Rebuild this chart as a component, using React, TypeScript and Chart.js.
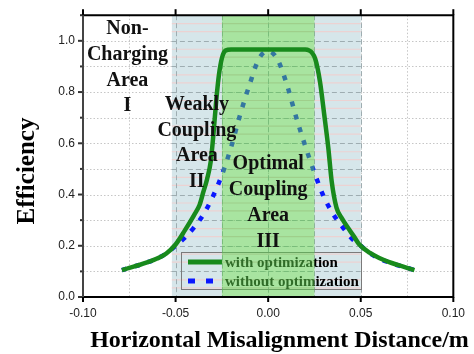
import React, { useEffect, useRef } from 'react';
import { Chart, registerables } from 'chart.js';

Chart.register(...registerables);

// ---- data ----
const seriesNames = ['with optimization', 'without optimization'];

const xWith = [-0.079, -0.075, -0.07, -0.065, -0.06, -0.055, -0.05, -0.045, -0.04, -0.037, -0.035, -0.033, -0.031, -0.0295, -0.028, -0.0266, -0.025, -0.023, -0.02, -0.01, 0, 0.01, 0.02, 0.022, 0.0254, 0.028, 0.0303, 0.0325, 0.0343, 0.0369, 0.04, 0.043, 0.046, 0.049, 0.055, 0.06, 0.065, 0.07, 0.075, 0.079];
const yWith = [0.105, 0.114, 0.124, 0.136, 0.15, 0.17, 0.205, 0.26, 0.32, 0.36, 0.41, 0.46, 0.53, 0.64, 0.77, 0.866, 0.932, 0.962, 0.966, 0.966, 0.966, 0.966, 0.966, 0.963, 0.93, 0.84, 0.711, 0.581, 0.452, 0.349, 0.305, 0.271, 0.24, 0.207, 0.172, 0.152, 0.137, 0.125, 0.114, 0.105];

const xWithout = [-0.079, -0.075, -0.07, -0.065, -0.06, -0.055, -0.05, -0.045, -0.04, -0.035, -0.03, -0.025, -0.02, -0.015, -0.01, -0.005, 0, 0.005, 0.01, 0.015, 0.02, 0.025, 0.03, 0.035, 0.04, 0.045, 0.05, 0.055, 0.06, 0.065, 0.07, 0.075, 0.079];
const yWithout = [0.105, 0.114, 0.124, 0.136, 0.15, 0.17, 0.2, 0.232, 0.272, 0.322, 0.39, 0.476, 0.585, 0.715, 0.83, 0.93, 0.96, 0.928, 0.832, 0.705, 0.59, 0.485, 0.392, 0.325, 0.275, 0.23, 0.2, 0.17, 0.15, 0.136, 0.124, 0.114, 0.105];

const xTickLabels = ['-0.10', '-0.05', '0.00', '0.05', '0.10'];
const yTickLabels = ['0.0', '0.2', '0.4', '0.6', '0.8', '1.0'];

// region boundaries (x values)
const weakBounds = [-0.052, 0.05];
const optimalBounds = [-0.025, 0.025];

const areaLabels = [
  ['Non-', 'Charging', 'Area', 'I'],
  ['Weakly', 'Coupling', 'Area', 'II'],
  ['Optimal', 'Coupling', 'Area', 'III'],
];
const xTitle = 'Horizontal Misalignment Distance/m';
const yTitle = 'Efficiency';

const SERIF = '"Liberation Serif", "Times New Roman", serif';
const SANS = '"Liberation Sans", Arial, sans-serif';
const GREEN = '#188a1c';
const BLUE = '#0a18ff';

const areaAnchors = [
  { x: -0.076, y: 1.026 },
  { x: -0.0385, y: 0.73 },
  { x: 0.0, y: 0.498 },
];

const regionPlugin = {
  id: 'regions',
  beforeDatasetsDraw(chart: any) {
    const { ctx, chartArea: a, scales } = chart;
    const xs = scales.x, ys = scales.y;
    ctx.save();
    ctx.beginPath();
    ctx.rect(a.left, a.top, a.right - a.left, a.bottom - a.top);
    ctx.clip();
    // dotted background grid
    ctx.strokeStyle = '#c6c6c6';
    ctx.lineWidth = 1;
    ctx.setLineDash([1.5, 2]);
    for (let i = 0; i <= 8; i++) {
      const px = Math.round(xs.getPixelForValue(-0.1 + i * 0.025)) + 0.5;
      ctx.beginPath(); ctx.moveTo(px, a.top); ctx.lineTo(px, a.bottom); ctx.stroke();
    }
    for (let i = 0; i <= 11; i++) {
      const py = Math.round(ys.getPixelForValue(i * 0.1)) + 0.5;
      ctx.beginPath(); ctx.moveTo(a.left, py); ctx.lineTo(a.right, py); ctx.stroke();
    }
    // weak coupling regions (light blue)
    const l = xs.getPixelForValue(weakBounds[0]);
    const r = xs.getPixelForValue(weakBounds[1]);
    const ol = xs.getPixelForValue(optimalBounds[0]);
    const or = xs.getPixelForValue(optimalBounds[1]);
    ctx.setLineDash([]);
    ctx.fillStyle = '#d6e6ea';
    ctx.fillRect(l, a.top, ol - l, a.bottom - a.top);
    ctx.fillRect(or, a.top, r - or, a.bottom - a.top);
    // pink stripes
    ctx.strokeStyle = '#ecd2d2';
    ctx.lineWidth = 1.2;
    for (let i = 0; i <= 11; i++) {
      for (const off of [0.036, 0.067]) {
        const py = ys.getPixelForValue(i * 0.1 + off);
        ctx.beginPath(); ctx.moveTo(l, py); ctx.lineTo(r, py); ctx.stroke();
      }
    }
    // dashed grey lines inside regions
    ctx.strokeStyle = '#9eadb1';
    ctx.lineWidth = 1;
    ctx.setLineDash([5, 3]);
    for (let i = 0; i <= 11; i++) {
      const py = Math.round(ys.getPixelForValue(i * 0.1)) + 0.5;
      ctx.beginPath(); ctx.moveTo(l, py); ctx.lineTo(r, py); ctx.stroke();
    }
    for (const v of [-0.05, -0.025, 0, 0.025, 0.05]) {
      const px = Math.round(xs.getPixelForValue(v)) + 0.5;
      ctx.beginPath(); ctx.moveTo(px, a.top); ctx.lineTo(px, a.bottom); ctx.stroke();
    }
    ctx.restore();
  },
  beforeDatasetDraw(chart: any, args: any) {
    if (args.index !== 0) return;
    const { ctx, chartArea: a, scales } = chart;
    const xs = scales.x;
    ctx.save();
    // legend (drawn beneath the green overlay)
    const bx = 181, by = 252, bw = 180, bh = 37;
    ctx.strokeStyle = '#7a7a7a';
    ctx.lineWidth = 1;
    ctx.strokeRect(bx + 0.5, by + 0.5, bw, bh);
    ctx.lineWidth = 5;
    ctx.strokeStyle = GREEN;
    ctx.beginPath(); ctx.moveTo(188, 262); ctx.lineTo(222, 262); ctx.stroke();
    ctx.strokeStyle = BLUE;
    ctx.setLineDash([7, 11]);
    ctx.beginPath(); ctx.moveTo(188, 281); ctx.lineTo(222, 281); ctx.stroke();
    ctx.setLineDash([]);
    ctx.fillStyle = '#000';
    ctx.font = `bold 15px ${SERIF}`;
    ctx.textAlign = 'left';
    ctx.textBaseline = 'middle';
    ctx.fillText(seriesNames[0], 225, 263);
    ctx.fillText(seriesNames[1], 225, 282);
    // optimal region overlay (semi-transparent green)
    const ol = xs.getPixelForValue(optimalBounds[0]);
    const or = xs.getPixelForValue(optimalBounds[1]);
    ctx.fillStyle = 'rgba(90, 204, 75, 0.53)';
    ctx.fillRect(ol, a.top, or - ol, a.bottom - a.top);
    ctx.restore();
  },
  afterDatasetsDraw(chart: any) {
    const { ctx, scales } = chart;
    ctx.save();
    ctx.fillStyle = '#111';
    ctx.font = `bold 20px ${SERIF}`;
    ctx.textAlign = 'center';
    ctx.textBaseline = 'alphabetic';
    areaLabels.forEach((lines, k) => {
      const cx = scales.x.getPixelForValue(areaAnchors[k].x);
      const cy = scales.y.getPixelForValue(areaAnchors[k].y);
      lines.forEach((t, j) => ctx.fillText(t, cx, cy + j * 25.7));
    });
    ctx.restore();
  },
  afterDraw(chart: any) {
    const { ctx, chartArea: a, scales } = chart;
    const xs = scales.x, ys = scales.y;
    ctx.save();
    ctx.setLineDash([]);
    ctx.lineWidth = 2;
    // ticks
    ctx.strokeStyle = '#000';
    for (let i = 0; i <= 4; i++) {
      const px = xs.getPixelForValue(-0.1 + i * 0.05);
      ctx.beginPath(); ctx.moveTo(px, a.bottom); ctx.lineTo(px, a.bottom + 5); ctx.stroke();
      ctx.beginPath(); ctx.moveTo(px, a.top); ctx.lineTo(px, a.top - 6); ctx.stroke();
    }
    ctx.strokeStyle = '#333';
    for (let i = 0; i <= 11; i++) {
      const py = ys.getPixelForValue(i * 0.1);
      const len = i % 2 === 0 ? 5 : 3;
      ctx.beginPath(); ctx.moveTo(a.left, py); ctx.lineTo(a.left - len, py); ctx.stroke();
    }
    // frame
    ctx.strokeStyle = '#000';
    ctx.beginPath();
    ctx.moveTo(a.left - 1, a.top); ctx.lineTo(a.right + 1, a.top);
    ctx.moveTo(a.right, a.top); ctx.lineTo(a.right, a.bottom);
    ctx.moveTo(a.left - 1, a.bottom); ctx.lineTo(a.right + 1, a.bottom);
    ctx.stroke();
    ctx.strokeStyle = '#444';
    ctx.beginPath(); ctx.moveTo(a.left, a.top); ctx.lineTo(a.left, a.bottom); ctx.stroke();
    // axis titles
    ctx.fillStyle = '#000';
    ctx.font = `bold 24px ${SERIF}`;
    ctx.textAlign = 'center';
    ctx.textBaseline = 'alphabetic';
    ctx.fillText(xTitle, 279.5, 347);
    ctx.translate(33.5, 171);
    ctx.rotate(-Math.PI / 2);
    ctx.font = `bold 25px ${SERIF}`;
    ctx.fillText(yTitle, 0, 0);
    ctx.restore();
  },
};

export default function App() {
  const ref = useRef<HTMLCanvasElement | null>(null);
  useEffect(() => {
    if (!ref.current) return;
    const chart = new Chart(ref.current, {
      type: 'line',
      data: {
        datasets: [
          {
            label: seriesNames[0],
            data: xWith.map((x, i) => ({ x, y: yWith[i] })),
            borderColor: GREEN,
            borderWidth: 4.5,
            pointRadius: 0,
            cubicInterpolationMode: 'monotone',
            fill: false,
            order: 0,
          },
          {
            label: seriesNames[1],
            data: xWithout.map((x, i) => ({ x, y: yWithout[i] })),
            borderColor: BLUE,
            borderWidth: 4.5,
            borderDash: [5, 8.5],
            pointRadius: 0,
            cubicInterpolationMode: 'monotone',
            fill: false,
            order: 1,
          },
        ],
      },
      options: {
        animation: false,
        responsive: false,
        devicePixelRatio: 1,
        layout: { padding: { left: 0, top: 13, right: 13, bottom: 0 } },
        plugins: { legend: { display: false }, tooltip: { enabled: false } },
        scales: {
          x: {
            type: 'linear',
            min: -0.1,
            max: 0.1,
            afterFit: (s: any) => { s.height = 57; },
            grid: { display: false, drawTicks: false },
            border: { display: false },
            ticks: {
              stepSize: 0.05,
              autoSkip: false,
              maxRotation: 0,
              padding: 9,
              color: '#222',
              font: { family: SANS, size: 12 },
              callback: (v: any) => {
                const k = Math.round((Number(v) + 0.1) / 0.05);
                return Math.abs(-0.1 + k * 0.05 - Number(v)) < 1e-6 ? xTickLabels[k] : '';
              },
            },
          },
          y: {
            type: 'linear',
            min: 0,
            max: 1.1,
            afterFit: (s: any) => { s.width = 83; },
            grid: { display: false, drawTicks: false },
            border: { display: false },
            ticks: {
              stepSize: 0.1,
              autoSkip: false,
              padding: 8,
              color: '#222',
              font: { family: SANS, size: 12 },
              callback: (v: any) => {
                const t = Math.round(Number(v) * 10);
                return t % 2 === 0 && t / 2 < yTickLabels.length ? yTickLabels[t / 2] : '';
              },
            },
          },
        },
      },
      plugins: [regionPlugin],
    } as any);
    return () => chart.destroy();
  }, []);
  return (
    <div style={{ position: 'absolute', left: 0, top: 0, width: 474, height: 354, background: '#fff' }}>
      <canvas ref={ref} width={474} height={354} style={{ width: 474, height: 354 }} />
    </div>
  );
}
